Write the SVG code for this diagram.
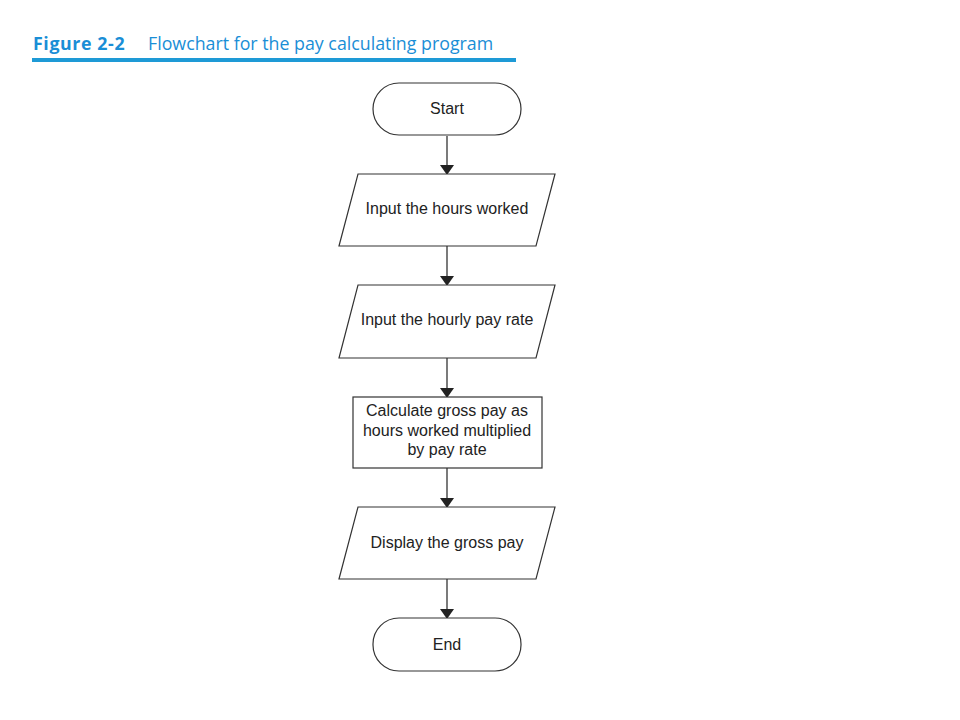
<svg xmlns="http://www.w3.org/2000/svg" width="960" height="720" viewBox="0 0 960 720">
<defs>
<style>
.shape{fill:#fff;stroke:#333;stroke-width:1.2}
.lbl{font-family:"Liberation Sans",Arial,sans-serif;font-size:16px;fill:#222;text-anchor:middle}
.conn{stroke:#333;stroke-width:1.3;fill:none}
.title{font-family:"Open Sans","DejaVu Sans",sans-serif;font-size:17.8px;fill:#1a8ed6}
</style>
<marker id="arr" markerWidth="10" markerHeight="14" refX="9" refY="7" orient="auto" markerUnits="userSpaceOnUse" viewBox="0 0 10 14">
<path d="M0,0 L10,7 L0,14 Z" fill="#222"/>
</marker>
</defs>
<rect width="960" height="720" fill="#fff"/>
<g id="title">
<text x="33" y="50" class="title" font-weight="bold" font-size="20px" letter-spacing="0.6">Figure 2-2</text>
<text x="148" y="50" class="title">Flowchart for the pay calculating program</text>
<rect x="32" y="58" width="484" height="4" fill="#1e9ad6"/>
</g>
<g id="connectors">
<line class="conn" x1="447" y1="136" x2="447" y2="174" marker-end="url(#arr)"/>
<line class="conn" x1="447" y1="246" x2="447" y2="285" marker-end="url(#arr)"/>
<line class="conn" x1="447" y1="358" x2="447" y2="397" marker-end="url(#arr)"/>
<line class="conn" x1="447" y1="468" x2="447" y2="507" marker-end="url(#arr)"/>
<line class="conn" x1="447" y1="579" x2="447" y2="618" marker-end="url(#arr)"/>
</g>
<g id="start">
<rect class="shape" x="373" y="83" width="148" height="52" rx="26"/>
<text class="lbl" x="447" y="114">Start</text>
</g>
<g id="input-hours">
<polygon class="shape" points="358,174 555,174 536,246 339,246"/>
<text class="lbl" x="447" y="214">Input the hours worked</text>
</g>
<g id="input-rate">
<polygon class="shape" points="358,285 555,285 536,358 339,358"/>
<text class="lbl" x="447" y="325">Input the hourly pay rate</text>
</g>
<g id="calculate">
<rect class="shape" x="353" y="397" width="189" height="71"/>
<text class="lbl" x="447" y="416">Calculate gross pay as</text>
<text class="lbl" x="447" y="436">hours worked multiplied</text>
<text class="lbl" x="447" y="455">by pay rate</text>
</g>
<g id="display">
<polygon class="shape" points="358,507 555,507 536,579 339,579"/>
<text class="lbl" x="447" y="548">Display the gross pay</text>
</g>
<g id="end">
<rect class="shape" x="373" y="618" width="148" height="53" rx="26"/>
<text class="lbl" x="447" y="650">End</text>
</g>
</svg>
